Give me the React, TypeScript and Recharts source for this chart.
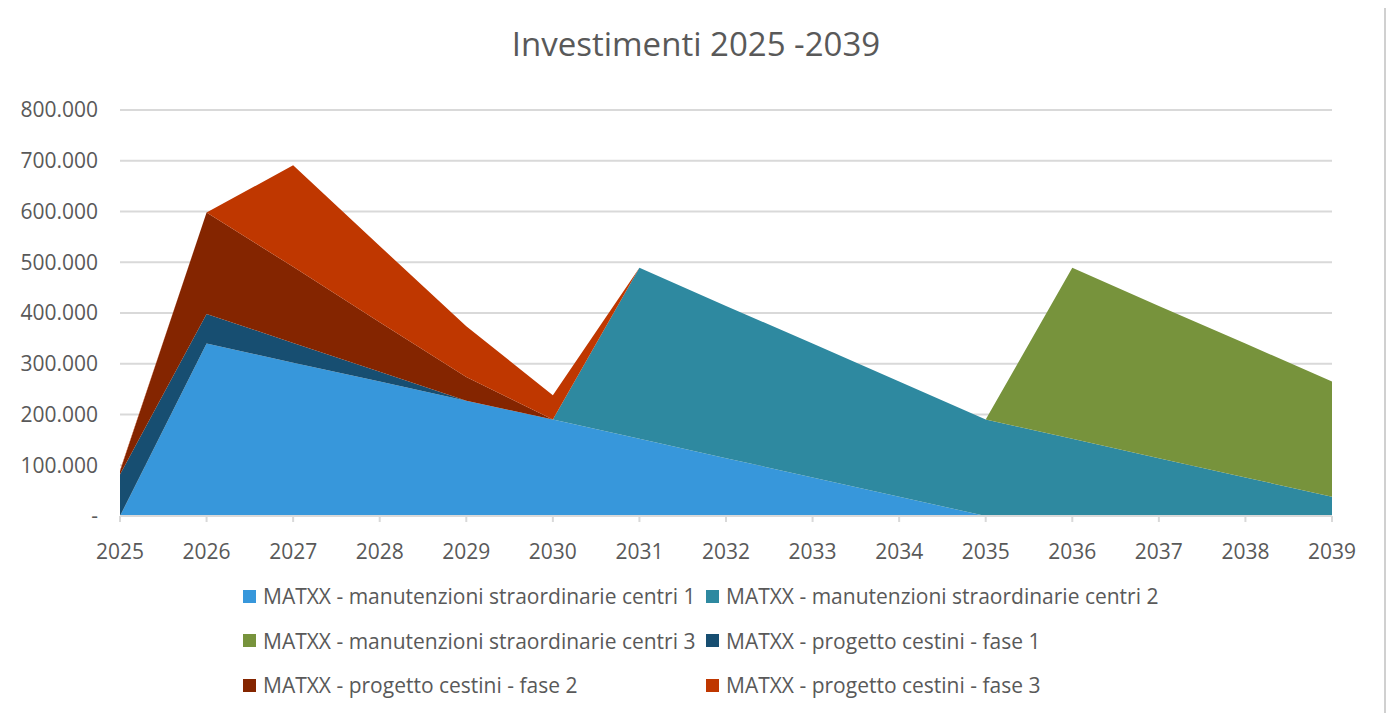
import React from 'react';
import { AreaChart, Area, XAxis, YAxis, CartesianGrid } from 'recharts';

const years = ['2025', '2026', '2027', '2028', '2029', '2030', '2031', '2032', '2033', '2034', '2035', '2036', '2037', '2038', '2039'];

const centri1 = [0, 340000, 302000, 265000, 227000, 190000, 152000, 114000, 76000, 38000, 0, 0, 0, 0, 0];
const centri2 = [0, 0, 0, 0, 0, 0, 337000, 300000, 264000, 227000, 190000, 152000, 114000, 76000, 38000];
const centri3 = [0, 0, 0, 0, 0, 0, 0, 0, 0, 0, 0, 337000, 300000, 264000, 227000];
const fase1 = [82000, 58000, 39000, 19000, 0, 0, 0, 0, 0, 0, 0, 0, 0, 0, 0];
const fase2 = [6000, 200000, 150000, 98000, 47000, 0, 0, 0, 0, 0, 0, 0, 0, 0, 0];
const fase3 = [2000, 0, 200000, 150000, 100000, 48000, 0, 0, 0, 0, 0, 0, 0, 0, 0];

const yTicks = [0, 100000, 200000, 300000, 400000, 500000, 600000, 700000, 800000];

const series = [
  { key: 'c1', name: 'MATXX - manutenzioni straordinarie centri 1', color: '#3797DB', values: centri1 },
  { key: 'c2', name: 'MATXX - manutenzioni straordinarie centri 2', color: '#2E89A0', values: centri2 },
  { key: 'c3', name: 'MATXX - manutenzioni straordinarie centri 3', color: '#77933C', values: centri3 },
  { key: 'f1', name: 'MATXX - progetto cestini - fase 1', color: '#174E71', values: fase1 },
  { key: 'f2', name: 'MATXX - progetto cestini - fase 2', color: '#842500', values: fase2 },
  { key: 'f3', name: 'MATXX - progetto cestini - fase 3', color: '#BF3700', values: fase3 },
];

const data = years.map((year, i) => {
  const row: any = { year };
  series.forEach(s => { row[s.key] = s.values[i]; });
  return row;
});

const FONT = '"Open Sans", sans-serif';
const TEXT = '#595959';

const fmt = (v: number) => (v === 0 ? '-' : v.toLocaleString('it-IT').replace(/\s/g, '.'));

export default function App() {
  return (
    <div style={{
      position: 'relative', width: 1380, height: 720, marginLeft: -2, marginTop: -3,
      border: '2px solid #d0d0d0', boxSizing: 'border-box', background: '#fff', fontFamily: FONT,
    }}>
      <div style={{ position: 'absolute', left: 0, right: 0, top: 14, textAlign: 'center', fontSize: 33, color: TEXT }}>
        Investimenti 2025 -2039
      </div>
      <AreaChart width={1376} height={716} data={data} margin={{ top: 103, right: 52, left: 0, bottom: 167 }}>
        <CartesianGrid vertical={false} stroke="#d9d9d9" strokeWidth={2} />
        <XAxis
          dataKey="year"
          stroke="#d9d9d9"
          strokeWidth={2}
          tick={{ fill: TEXT, fontSize: 21, fontFamily: FONT }}
          tickSize={6}
          tickMargin={22}
          height={40}
          interval={0}
        />
        <YAxis
          domain={[0, 800000]}
          ticks={yTicks}
          width={112}
          axisLine={false}
          tickLine={false}
          tickSize={0}
          tickMargin={22}
          tickFormatter={fmt}
          tick={{ fill: TEXT, fontSize: 21, fontFamily: FONT }}
        />
        {series.map(s => (
          <Area
            key={s.key}
            type="linear"
            dataKey={s.key}
            name={s.name}
            stackId="1"
            stroke="none"
            fill={s.color}
            fillOpacity={1}
            isAnimationActive={false}
          />
        ))}
      </AreaChart>
      <div style={{ position: 'absolute', left: 235, top: 567, width: 930 }}>
        {[0, 2, 4].map(r => (
          <div key={r} style={{ display: 'flex', height: 44.5, alignItems: 'center' }}>
            {[series[r], series[r + 1]].map(s => (
              <div key={s.key} style={{ width: 463, display: 'flex', alignItems: 'center', fontSize: 21, color: TEXT, whiteSpace: 'nowrap' }}>
                <span style={{ width: 13, height: 13, background: s.color, marginRight: 7, display: 'inline-block', flexShrink: 0 }} />
                {s.name}
              </div>
            ))}
          </div>
        ))}
      </div>
    </div>
  );
}
